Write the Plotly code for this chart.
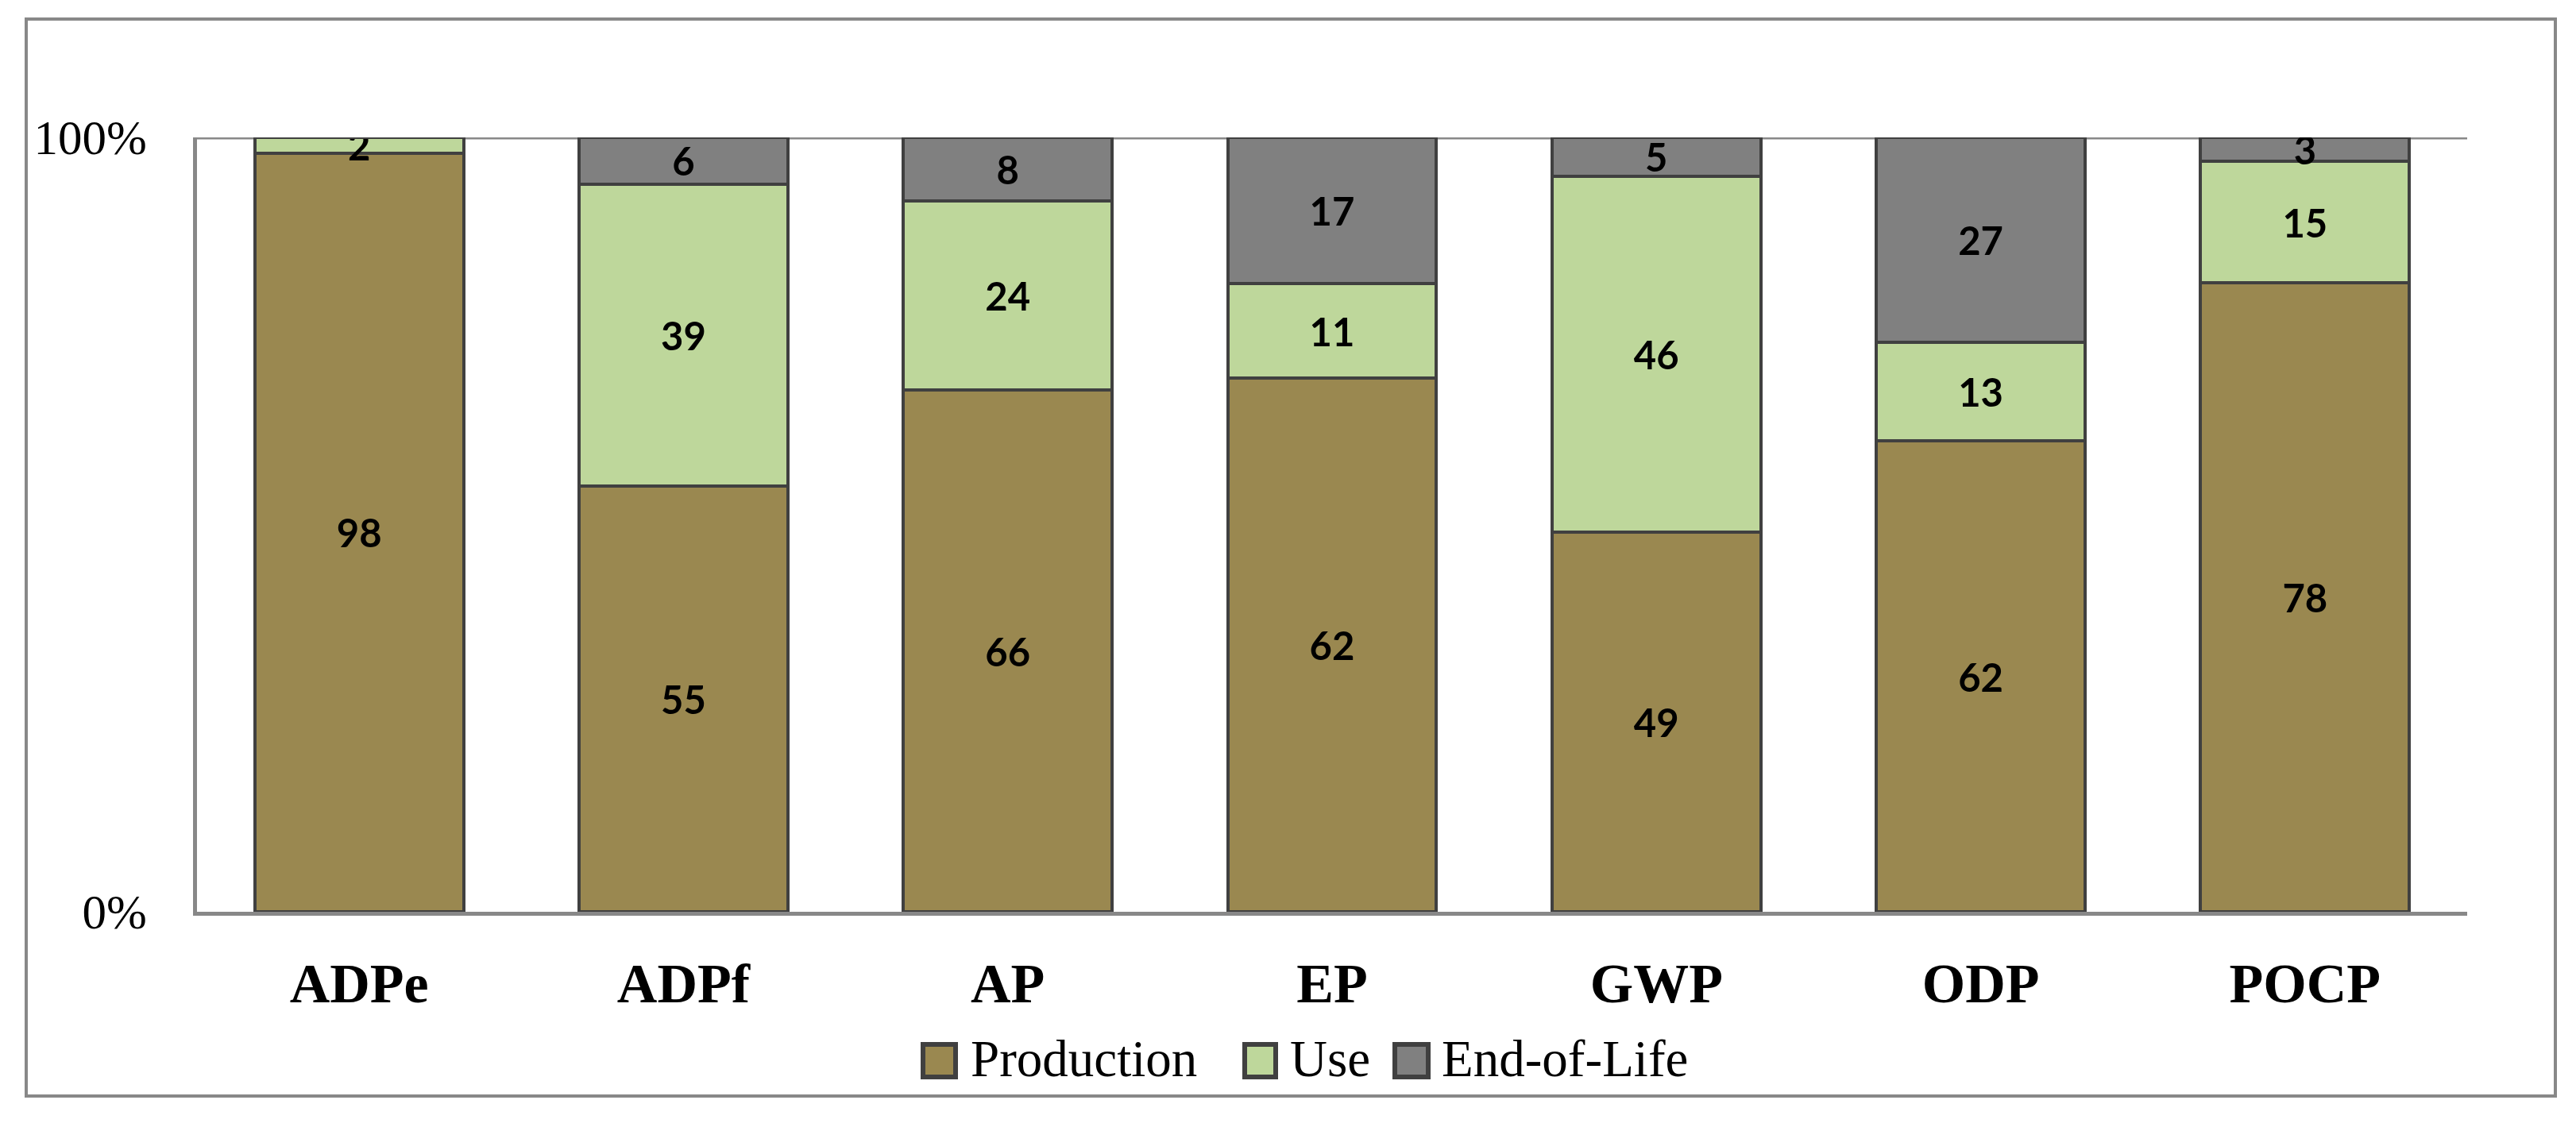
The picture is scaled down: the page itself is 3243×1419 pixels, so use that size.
import plotly.graph_objects as go

categories = ["ADPe", "ADPf", "AP", "EP", "GWP", "ODP", "POCP"]
production = [98, 55, 66, 62, 49, 62, 78]
use = [2, 39, 24, 11, 46, 13, 15]
end_of_life = [0, 6, 8, 17, 5, 27, 3]
series_names = ["Production", "Use", "End-of-Life"]
y_tick_vals = [0, 100]
y_tick_text = ["0%", "100%"]

colors = ["#9A8850", "#BED79B", "#808080"]
outline = "#404040"

# The page body has an 8 px margin, so the figure is shifted by OFF; compensate.
OFF = 8
W, H = 3243 - 2 * OFF, 1419 - 2 * OFF
PL, PR, PT, PB = 248 - OFF, 3106 - OFF, 173 - OFF, 1148 - OFF  # plot area in figure px


def px2x(px):
    return (px - OFF - PL) / (PR - PL)


def py2y(py):
    return (PB - (py - OFF)) / (PB - PT)


fig = go.Figure()
for name, vals, col in zip(series_names, [production, use, end_of_life], colors):
    fig.add_trace(go.Bar(
        x=categories, y=vals, name=name,
        marker=dict(color=col, line=dict(color=outline, width=4)),
        text=[str(v) if v else "" for v in vals],
        textposition="inside", insidetextanchor="middle", textangle=0,
        constraintext="none",
        textfont=dict(family="Lato", size=49, color="black", weight="bold"),
        insidetextfont=dict(family="Lato", size=49, color="black", weight="bold"),
        showlegend=False, hoverinfo="skip",
    ))

shapes = [
    # outer frame
    dict(type="rect", xref="paper", yref="paper",
         x0=px2x(33), x1=px2x(3217), y0=py2y(1380), y1=py2y(24),
         line=dict(color="#888888", width=4), fillcolor="rgba(0,0,0,0)", layer="below"),
    # 100% reference line
    dict(type="line", xref="paper", yref="y", x0=0, x1=1, y0=100, y1=100,
         line=dict(color="#888888", width=5), layer="below"),
]
annotations = []
legend_items = [(1162, 1203, 1220), (1567, 1606, 1622), (1756, 1798, 1813)]
for (bx0, bx1, tx), name, col in zip(legend_items, series_names, colors):
    shapes.append(dict(type="rect", xref="paper", yref="paper",
                       x0=px2x(bx0), x1=px2x(bx1), y0=py2y(1356), y1=py2y(1315),
                       line=dict(color=outline, width=6), fillcolor=col))
    annotations.append(dict(xref="paper", yref="paper", x=px2x(tx), y=py2y(1333),
                            xanchor="left", yanchor="middle", showarrow=False,
                            text=name, font=dict(family="Liberation Serif", size=65, color="black")))

fig.update_layout(
    width=W, height=H,
    barmode="stack", barnorm="percent", bargap=0.356,
    plot_bgcolor="white", paper_bgcolor="white",
    margin=dict(l=PL, r=W - PR, t=PT, b=H - PB, autoexpand=False),
    shapes=shapes, annotations=annotations,
    showlegend=False,
    xaxis=dict(showline=True, linecolor="#888888", linewidth=5, ticks="",
               tickfont=dict(family="Liberation Serif", size=70, color="black", weight="bold"),
               ticklabelstandoff=25, showgrid=False),
    yaxis=dict(range=[0, 100], tickvals=y_tick_vals, ticktext=y_tick_text,
               showline=True, linecolor="#888888", linewidth=5,
               showgrid=False, zeroline=False,
               ticks="", ticklabelstandoff=46,
               tickfont=dict(family="Liberation Serif", size=61, color="black")),
)

fig.write_html("out.html")
